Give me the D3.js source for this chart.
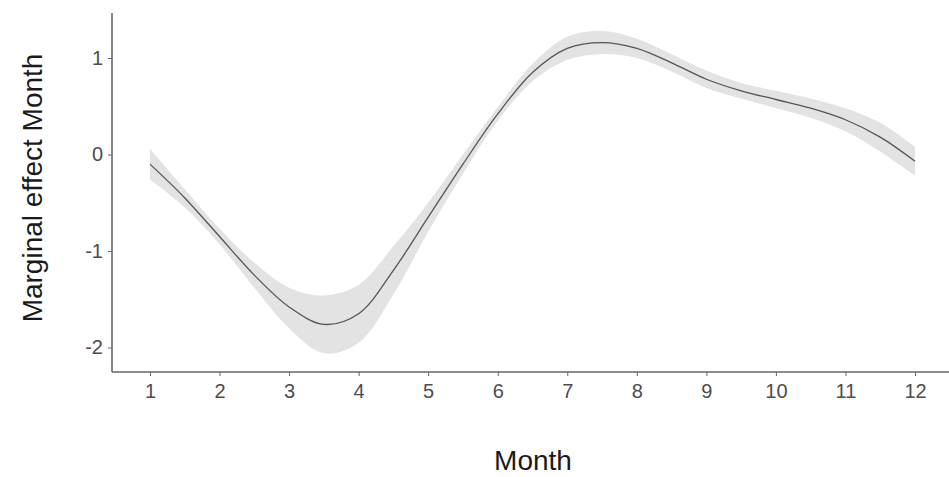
<!DOCTYPE html>
<html>
<head>
<meta charset="utf-8">
<script src="https://cdn.jsdelivr.net/npm/d3@7"></script>
<style>
  body { margin: 0; background: #fff; }
  text { font-family: "Liberation Sans", Arial, sans-serif; }
</style>
</head>
<body>
<svg id="chart" width="949" height="477"></svg>
<script>
// data
let months = [1, 1.5, 2, 2.5, 3, 3.5, 4, 4.5, 5, 5.5, 6, 6.5, 7, 7.5, 8, 8.5, 9, 9.5, 10, 10.5, 11, 11.5, 12];
let fit = [-0.1, -0.45, -0.85, -1.25, -1.58, -1.76, -1.65, -1.2, -0.65, -0.1, 0.42, 0.85, 1.1, 1.16, 1.1, 0.95, 0.78, 0.66, 0.57, 0.48, 0.36, 0.18, -0.07];
let lower = [-0.26, -0.55, -0.93, -1.38, -1.8, -2.06, -1.95, -1.45, -0.8, -0.2, 0.35, 0.76, 0.98, 1.04, 1.0, 0.86, 0.69, 0.58, 0.48, 0.38, 0.24, 0.03, -0.22];
let upper = [0.06, -0.36, -0.77, -1.12, -1.38, -1.46, -1.35, -0.95, -0.5, 0.0, 0.49, 0.94, 1.22, 1.28, 1.2, 1.04, 0.87, 0.74, 0.66, 0.58, 0.48, 0.33, 0.08];
let xTicks = [1, 2, 3, 4, 5, 6, 7, 8, 9, 10, 11, 12];
let yTicks = [-2, -1, 0, 1];

let svg = d3.select("#chart");

// axis box: x axis line at y=372, y axis at x=112
let x = d3.scaleLinear().domain([1, 12]).range([150, 915]);
let y = d3.scaleLinear().domain([-2, 1]).range([347.5, 58]);

let rows = months.map((m, i) => ({ m: m, f: fit[i], lo: lower[i], hi: upper[i] }));

// band
let area = d3.area()
  .x(d => x(d.m))
  .y0(d => y(d.lo))
  .y1(d => y(d.hi))
  .curve(d3.curveCatmullRom);

svg.append("path")
  .datum(rows)
  .attr("d", area)
  .attr("fill", "#e3e3e3")
  ;

// fitted line
let line = d3.line()
  .x(d => x(d.m))
  .y(d => y(d.f))
  .curve(d3.curveCatmullRom);

svg.append("path")
  .datum(rows)
  .attr("d", line)
  .attr("fill", "none")
  .attr("stroke", "#555")
  .attr("stroke-width", 1.3)
  ;

// axes
let axisColor = "#666";

let xAxis = svg.append("g")
  .attr("transform", "translate(0, 372)")
  .call(d3.axisBottom(x).tickValues(xTicks).tickSize(4).tickPadding(8).tickSizeOuter(0));
xAxis.select(".domain").remove();
xAxis.append("line")
  .attr("x1", 112).attr("x2", 949)
  .attr("stroke", axisColor).attr("stroke-width", 1.6);

let yAxis = svg.append("g")
  .attr("transform", "translate(112, 0)")
  .call(d3.axisLeft(y).tickValues(yTicks).tickFormat(d => String(d)).tickSize(4).tickPadding(5).tickSizeOuter(0));
yAxis.select(".domain").remove();
yAxis.append("line")
  .attr("y1", 13).attr("y2", 372)
  .attr("stroke", axisColor).attr("stroke-width", 1.6);

svg.selectAll(".tick line").attr("stroke", axisColor);
svg.selectAll(".tick text")
  .attr("fill", "#4d4d4d")
  .style("font-size", "20px")
  .style("font-family", "'Liberation Sans', Arial, sans-serif");

// titles
svg.append("text")
  .attr("x", 533)
  .attr("y", 470)
  .attr("text-anchor", "middle")
  .attr("fill", "#1a1a1a")
  .style("font-size", "28px")
  .text("Month");

svg.append("text")
  .attr("transform", "translate(42, 188) rotate(-90)")
  .attr("text-anchor", "middle")
  .attr("fill", "#1a1a1a")
  .style("font-size", "28px")
  .text("Marginal effect Month");
</script>
</body>
</html>
